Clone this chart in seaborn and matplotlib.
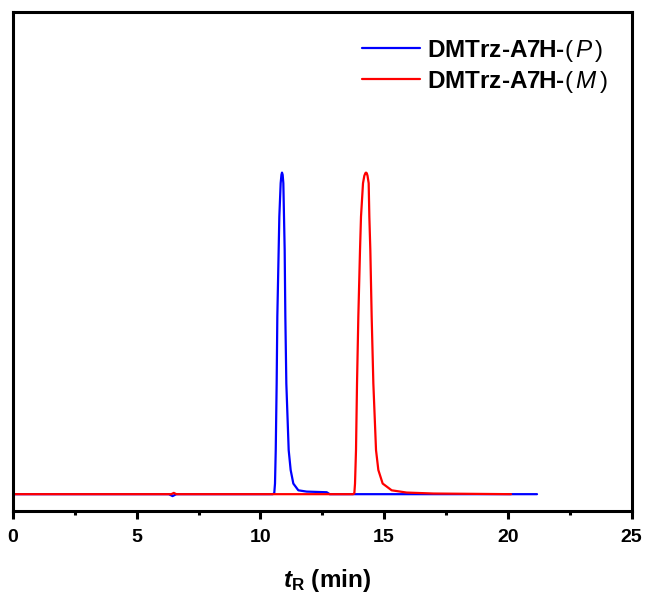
import numpy as np
import pandas as pd
import matplotlib
matplotlib.use("Agg")
import matplotlib.pyplot as plt
from matplotlib.ticker import MultipleLocator
import seaborn as sns

# ---- data (time in min, normalized intensity) ----
blue_t = [0.0, 0.02, 6.30, 6.45, 6.60, 10.50, 10.56, 10.59, 10.62, 10.657, 10.684,
          10.738, 10.765, 10.819, 10.85, 10.873, 10.90, 10.927, 10.954, 10.981,
          11.008, 11.048, 11.143, 11.223, 11.331, 11.533, 11.87, 12.68, 12.80, 21.18]
blue_i = [-0.05, 0.0, 0.0, -0.006, 0.0, 0.0, 0.003, 0.033, 0.137, 0.344, 0.552,
          0.759, 0.863, 0.967, 0.993, 1.0, 0.993, 0.967, 0.863, 0.759,
          0.552, 0.344, 0.137, 0.075, 0.033, 0.012, 0.008, 0.006, 0.0, 0.0]

red_t = [0.0, 6.40, 6.50, 6.60, 13.75, 13.797, 13.824, 13.864, 13.905, 13.958,
         14.026, 14.066, 14.147, 14.20, 14.241, 14.268, 14.30, 14.33, 14.376,
         14.403, 14.443, 14.497, 14.565, 14.673, 14.767, 14.942, 15.306, 15.912,
         17.00, 20.13]
red_i = [0.0, 0.0, 0.004, 0.0, 0.0, 0.003, 0.033, 0.137, 0.344, 0.552,
         0.759, 0.863, 0.967, 0.99, 0.998, 1.0, 0.998, 0.99, 0.967,
         0.863, 0.759, 0.552, 0.344, 0.137, 0.075, 0.033, 0.012, 0.005,
         0.002, 0.0]

labels = ["DMTrz-A7H-$(\\,\\mathit{P}\\,)$", "DMTrz-A7H-$(\\,\\mathit{M}\\,)$"]
x_ticks = [0, 5, 10, 15, 20, 25]

sns.set_theme(style="white")
plt.rcParams["font.family"] = ["Liberation Sans", "DejaVu Sans"]
plt.rcParams["text.color"] = "black"
plt.rcParams["axes.labelcolor"] = "black"
plt.rcParams["xtick.color"] = "black"
plt.rcParams["mathtext.fontset"] = "custom"
plt.rcParams["mathtext.rm"] = "Liberation Sans"
plt.rcParams["mathtext.it"] = "Liberation Sans:italic"
plt.rcParams["mathtext.bf"] = "Liberation Sans:bold"
plt.rcParams["mathtext.bfit"] = "Liberation Sans:italic:bold"

fig = plt.figure(figsize=(6.46, 5.93), dpi=100)
ax = fig.add_axes([0.0201, 0.139, 0.9575, 0.840])

df_b = pd.DataFrame({"t": blue_t, "I": blue_i})
df_r = pd.DataFrame({"t": red_t, "I": red_i})
sns.lineplot(data=df_b, x="t", y="I", ax=ax, color="#0000ff", lw=1.6,
             sort=False, estimator=None, label=labels[0])
sns.lineplot(data=df_r, x="t", y="I", ax=ax, color="#ff0000", lw=1.6,
             sort=False, estimator=None, label=labels[1])

ax.set_xlim(0, 25)
ax.set_ylim(-0.051, 1.498)
ax.set_xticks(x_ticks)
ax.set_xticklabels([str(v) for v in x_ticks], fontsize=14, fontweight="bold",
                   color="black")
ax.xaxis.set_minor_locator(MultipleLocator(2.5))
ax.set_yticks([])
ax.tick_params(axis="x", which="major", direction="out", length=6, width=2.2,
               pad=7, bottom=True, color="black")
ax.tick_params(axis="x", which="minor", direction="out", length=3, width=2.2,
               bottom=True, color="black")
for s in ax.spines.values():
    s.set_linewidth(2.2)
    s.set_color("black")

ax.set_xlabel(r"$\mathbfit{t}_{\mathbf{R}}$ (min)", fontsize=17.5, fontweight="bold",
              color="black")
ax.xaxis.set_label_coords(0.507, -0.113)
ax.set_ylabel("")

leg = ax.legend(loc="upper right", bbox_to_anchor=(0.985, 0.978), frameon=False,
                prop={"weight": "bold", "size": 17.5}, handlelength=2.39,
                handletextpad=0.28, labelspacing=0.2, borderaxespad=0.2)
for txt in leg.get_texts():
    txt.set_color("black")

fig.savefig("out.png", dpi=100)
